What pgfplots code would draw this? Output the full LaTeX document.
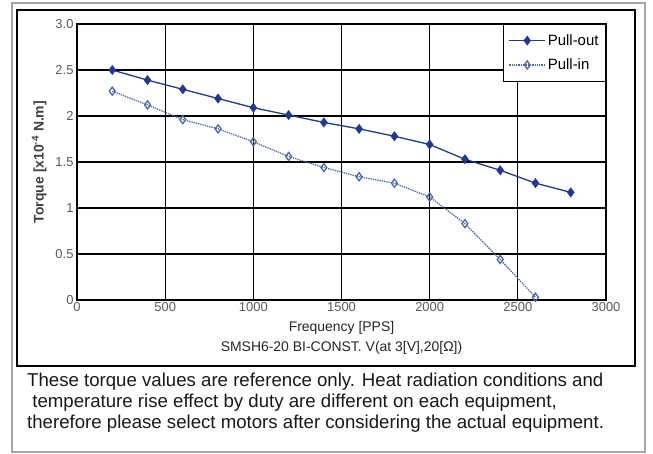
\documentclass[border=0pt]{standalone}
\usepackage{fontspec}
\setmainfont{Liberation Sans}
\usepackage{pgfplots}
\pgfplotsset{compat=1.18}
\definecolor{pout}{RGB}{28,58,150}
\definecolor{pin}{RGB}{75,105,170}
\definecolor{tick}{RGB}{90,90,90}
\begin{document}
\begin{tikzpicture}[x=1bp,y=1bp]
\fill[white] (-77,300) rectangle (576,-154);
\draw[draw=gray!70,line width=1.2bp] (-65,297) rectangle (568,-152);
\draw[black,line width=1.2bp] (-60,290) rectangle (558,-66);
\begin{axis}[
  at={(0,0)}, anchor=south west,
  scale only axis, width=529bp, height=276bp,
  xmin=0, xmax=3000, ymin=0, ymax=3,
  xtick={0,500,...,3000},
  ytick={0,0.5,1,1.5,2,2.5,3},
  yticklabels={0,0.5,1,1.5,2,2.5,3.0},
  grid=major,
  major grid style={black,line width=1.3bp},
  axis line style={black,line width=1.3bp},
  tick style={draw=none},
  /pgf/number format/assume math mode=true,
  /pgf/number format/1000 sep={},
  tick label style={font=\fontsize{13}{15}\selectfont, text=tick},
  xticklabel style={yshift=1bp},
  xlabel={Frequency [PPS]\\SMSH6-20 BI-CONST. V(at 3[V],20[Ω])},
  xlabel style={align=center, font=\fontsize{14}{20}\selectfont, text=black!85, yshift=-3bp},
  ylabel={Torque [x10\textsuperscript{-4} N.m]},
  ylabel style={font=\bfseries\fontsize{14}{16}\selectfont, text=black!75, yshift=2bp},
  legend style={at={(1,1)}, anchor=north east, draw=black, line width=1bp, fill=white,
    font=\fontsize{15}{17}\selectfont, row sep=8bp, inner xsep=5bp, inner ysep=8bp, legend cell align=left},
  legend image code/.code={\draw[mark repeat=2,mark phase=2,line width=1.2bp] plot coordinates {(0bp,0bp) (18bp,0bp) (36bp,0bp)};},
]
\addplot[color=pout, line width=1.3bp, mark=diamond*, mark size=4bp, mark options={solid,fill=pout}]
coordinates {(200,2.5) (400,2.39) (600,2.29) (800,2.19) (1000,2.09) (1200,2.01) (1400,1.93) (1600,1.86) (1800,1.78) (2000,1.69) (2200,1.53) (2400,1.41) (2600,1.27) (2800,1.17)};
\addlegendentry{Pull-out}
\addplot[color=pin, line width=1.3bp, densely dotted, mark=diamond, mark size=4bp, mark options={solid,line width=1.3bp,fill=white}]
coordinates {(200,2.27) (400,2.12) (600,1.96) (800,1.86) (1000,1.72) (1200,1.56) (1400,1.44) (1600,1.34) (1800,1.27) (2000,1.12) (2200,0.83) (2400,0.44) (2600,0.03)};
\addlegendentry{Pull-in}
\end{axis}
\node[anchor=north west, align=left, inner sep=0pt, font=\fontsize{18.7}{21}\selectfont, text=black!90] at (-50,-73)
{These torque values are reference only. Heat radiation conditions and\\
\ temperature rise effect by duty are different on each equipment,\\
therefore please select motors after considering the actual equipment.};
\end{tikzpicture}
\end{document}
